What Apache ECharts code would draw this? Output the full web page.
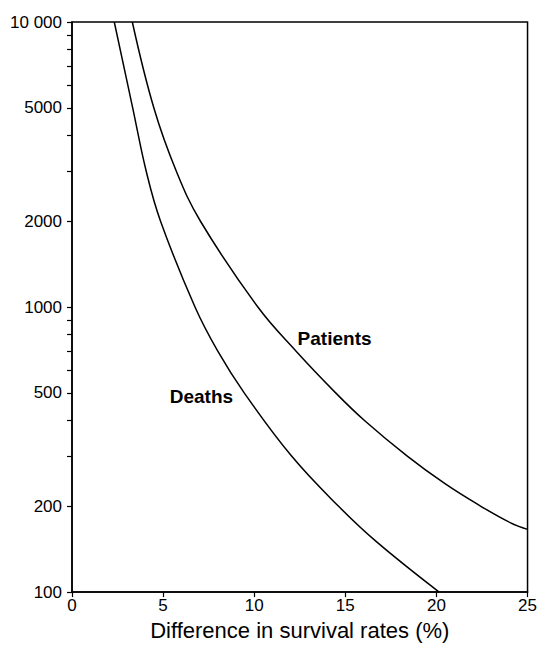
<!DOCTYPE html>
<html><head><meta charset="utf-8">
<script src="https://cdn.jsdelivr.net/npm/echarts@6/dist/echarts.min.js"></script>
<style>html,body{margin:0;padding:0;background:#fff}#chart{width:540px;height:646px}</style>
</head><body><div id="chart"></div>
<script>
// Difference in survival rates (%) vs number needed (log scale)
const deathsX = [2.32, 3.33, 4.07, 4.86, 6.75, 8.0, 9.45, 12.05, 14.63, 16.72, 20.15];
const deathsY = [10000, 5000, 3000, 2000, 1000, 700, 500, 300, 200, 150, 100];
const patientsX = [3.31, 4.49, 5.72, 7.05, 10.2, 12.3, 14.47, 16.05, 18.4, 20.47, 22.27, 24.07, 25.0];
const patientsY = [10000, 5000, 3000, 2000, 1000, 700, 500, 400, 300, 240, 203, 175, 166];
const yTickValues = [100, 200, 300, 400, 500, 600, 700, 800, 900, 1000, 2000, 3000, 4000, 5000, 6000, 7000, 8000, 9000, 10000];
const yLabelValues = [100, 200, 500, 1000, 2000, 5000, 10000];
const xLabelValues = [0, 5, 10, 15, 20, 25];
const seriesNames = ['Deaths', 'Patients'];
// label anchor points in data coordinates [x, y]
const deathsLabelAt = [7.10, 487];
const patientsLabelAt = [14.41, 776];
const xTitle = 'Difference in survival rates (%)';

const FONT = '"Liberation Sans", Arial, Helvetica, sans-serif';
const chart = echarts.init(document.getElementById('chart'), null, {renderer: 'svg'});

function toPairs(xs, ys) { return xs.map((x, i) => [x, ys[i]]); }
function fmtY(v) { return v === 10000 ? '10 000' : String(v); }

function curve(name, xs, ys) {
  return {
    name: name, type: 'line', data: toPairs(xs, ys),
    showSymbol: false, smooth: 0.4, clip: true,
    lineStyle: { color: '#000', width: 1.5 }
  };
}
function curveLabel(name, at) {
  return {
    name: name + ' label', type: 'scatter', data: [at],
    symbolSize: 0, silent: true, z: 5,
    itemStyle: { opacity: 1 },
    label: { show: true, position: 'inside', color: '#000', opacity: 1, fontFamily: FONT, fontSize: 19, fontWeight: 'bold', formatter: name }
  };
}

chart.setOption({
  animation: false,
  backgroundColor: '#fff',
  grid: { left: 72, right: 10, top: 22, bottom: 51, show: true, borderColor: '#000', borderWidth: 1.5, backgroundColor: 'transparent' },
  xAxis: {
    type: 'value', min: 0, max: 25, interval: 5,
    name: xTitle, nameLocation: 'middle', nameGap: 25,
    nameTextStyle: { color: '#000', fontFamily: FONT, fontSize: 22 },
    axisLine: { show: true, lineStyle: { color: '#000', width: 1.5 } },
    axisTick: { show: true, inside: false, length: 5, lineStyle: { color: '#000', width: 1.2 } },
    axisLabel: { color: '#000', fontFamily: FONT, fontSize: 17, margin: 5, customValues: xLabelValues },
    splitLine: { show: false }
  },
  yAxis: {
    type: 'log', logBase: 10, min: 100, max: 10000,
    axisLine: { show: true, lineStyle: { color: '#000', width: 1.5 } },
    axisTick: { show: true, inside: false, length: 5, lineStyle: { color: '#000', width: 1.2 }, customValues: yTickValues },
    axisLabel: { color: '#000', fontFamily: FONT, fontSize: 17, margin: 10, customValues: yLabelValues, formatter: fmtY },
    splitLine: { show: false }
  },
  series: [
    curve(seriesNames[0], deathsX, deathsY),
    curve(seriesNames[1], patientsX, patientsY),
    curveLabel(seriesNames[0], deathsLabelAt),
    curveLabel(seriesNames[1], patientsLabelAt)
  ]
});
</script>
</body></html>
